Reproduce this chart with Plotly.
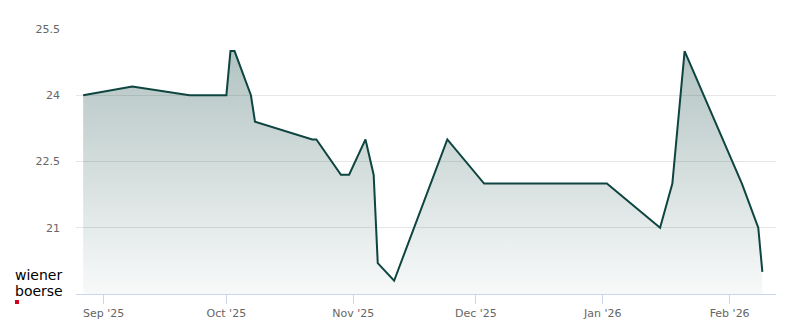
import plotly.graph_objects as go

dates = ["2025-08-27", "2025-09-08", "2025-09-22", "2025-10-01", "2025-10-02", "2025-10-03",
         "2025-10-07", "2025-10-08", "2025-10-22", "2025-10-23", "2025-10-29", "2025-10-31",
         "2025-11-04", "2025-11-06", "2025-11-07", "2025-11-11", "2025-11-24", "2025-12-03",
         "2026-01-02", "2026-01-15", "2026-01-18", "2026-01-21", "2026-02-04", "2026-02-08",
         "2026-02-09"]
prices = [24.0, 24.2, 24.0, 24.0, 25.0, 25.0,
          24.0, 23.4, 23.0, 23.0, 22.2, 22.2,
          23.0, 22.2, 20.2, 19.8, 23.0, 22.0,
          22.0, 21.0, 22.0, 25.0, 22.0, 21.0,
          20.0]

y_ticks = [21, 22.5, 24, 25.5]
y_tick_labels = ["21", "22.5", "24", "25.5"]
x_ticks = ["2025-09-01", "2025-10-01", "2025-11-01", "2025-12-01", "2026-01-01", "2026-02-01"]
x_tick_labels = ["Sep '25", "Oct '25", "Nov '25", "Dec '25", "Jan '26", "Feb '26"]

fig = go.Figure()
fig.add_trace(go.Scatter(
    x=dates, y=prices, mode="lines",
    line=dict(color="#0e4540", width=2),
    fill="tozeroy",
    fillgradient=dict(type="vertical", start=19.5, stop=25.2,
                      colorscale=[[0, "rgba(14,69,64,0.03)"], [1, "rgba(14,69,64,0.33)"]]),
    hoverinfo="skip",
))

fig.update_layout(
    width=800, height=324,
    margin=dict(l=76, r=24, t=29, b=30, autoexpand=False),
    paper_bgcolor="white", plot_bgcolor="white",
    showlegend=False,
    font=dict(family="DejaVu Sans", size=11, color="#666666"),
    xaxis=dict(
        type="date", automargin=False,
        range=["2025-08-25 06:00", "2026-02-12 08:00"],
        tickvals=x_ticks, ticktext=x_tick_labels,
        showgrid=False, zeroline=False,
        showline=True, linecolor="#ccd6eb", linewidth=1,
        ticks="outside", ticklen=9, tickcolor="#ccd6eb", tickwidth=1,
        tickfont=dict(size=11, color="#666666"),
    ),
    yaxis=dict(
        range=[19.5, 25.5], automargin=False,
        tickvals=y_ticks, ticktext=y_tick_labels,
        showgrid=True, gridcolor="#e6e6e6", gridwidth=1,
        zeroline=False, showline=False,
        ticks="", ticklabelstandoff=15,
        tickfont=dict(size=11, color="#666666"),
    ),
)

fig.add_annotation(
    text="<span style='font-size:14px'>wiener</span><br><span style='font-size:14px'>boerse</span>",
    xref="paper", yref="paper",
    x=(13 - 76) / 700, y=(294 - 283) / 265, xanchor="left", yanchor="middle", align="left",
    showarrow=False, font=dict(family="DejaVu Sans", size=12.4, color="#000000"))
fig.add_shape(type="rect", xref="paper", yref="paper",
              x0=(15 - 76) / 700, x1=(19 - 76) / 700,
              y0=(294 - 304) / 265, y1=(294 - 300) / 265,
              fillcolor="#d0021b", line=dict(width=0))

fig.write_html("out.html")
